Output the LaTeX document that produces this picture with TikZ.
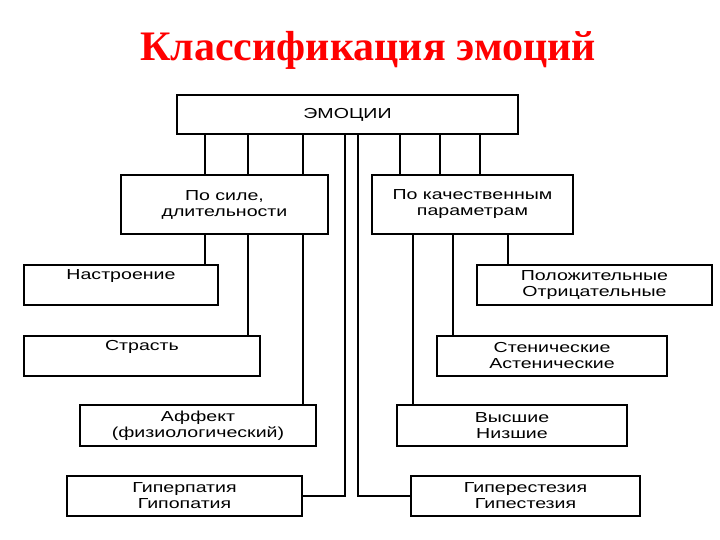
\documentclass[tikz,border=0pt]{standalone}
\usepackage{fontspec}
\setmainfont{Liberation Sans}
\newfontfamily\boxfont[FakeStretch=1.35]{Liberation Sans}
\newfontfamily\titlefont{Liberation Serif}
\begin{document}
\begin{tikzpicture}[x=1pt,y=-1pt,
  box/.style={draw,line width=1.6pt,inner sep=0pt,align=center,font=\boxfont\fontsize{14.5}{16}\selectfont},
  ln/.style={line width=1.3pt}]
\useasboundingbox (0,0) rectangle (720,540);
\node[red,font=\titlefont\bfseries\fontsize{42}{46}\selectfont] (title) at (368,50) {Классификация эмоций};
\newcommand\bx[6]{\node[box,minimum width=#4-#2,minimum height=#5-#3] (#1) at ({(#2+#4)/2},{(#3+#5)/2}) {#6};}
\bx{em}{177}{95}{518}{134}{ЭМОЦИИ}
\bx{ls}{121}{175}{328}{234}{По силе,\\длительности}
\bx{rs}{372}{175}{573}{234}{По качественным\\параметрам}
\bx{n1}{24}{265}{218}{305}{Настроение\\\strut}
\bx{n2}{24}{336}{260}{376}{Страсть\\\strut}
\bx{n3}{80}{405}{316}{446}{Аффект\\(физиологический)}
\bx{n4}{67}{476}{302}{516}{Гиперпатия\\Гипопатия}
\bx{r1}{477}{265}{712}{305}{Положительные\\Отрицательные}
\bx{r2}{437}{336}{667}{376}{Стенические\\Астенические}
\bx{r3}{397}{405}{627}{446}{Высшие\\Низшие}
\bx{r4}{411}{476}{640}{516}{Гиперестезия\\Гипестезия}
\foreach \x in {205,248,303} \draw[ln] (em.south -| \x,0) -- (ls.north -| \x,0);
\foreach \x in {400,440,480} \draw[ln] (em.south -| \x,0) -- (rs.north -| \x,0);
\draw[ln] (ls.south -| 205,0) -- (n1.north -| 205,0);
\draw[ln] (ls.south -| 248,0) -- (n2.north -| 248,0);
\draw[ln] (ls.south -| 303,0) -- (n3.north -| 303,0);
\draw[ln] (rs.south -| 508,0) -- (r1.north -| 508,0);
\draw[ln] (rs.south -| 453,0) -- (r2.north -| 453,0);
\draw[ln] (rs.south -| 413,0) -- (r3.north -| 413,0);
\draw[ln] (em.south -| 345,0) |- (n4.east);
\draw[line width=2pt] (em.south -| 358,0) |- (r4.west);
\end{tikzpicture}
\end{document}
